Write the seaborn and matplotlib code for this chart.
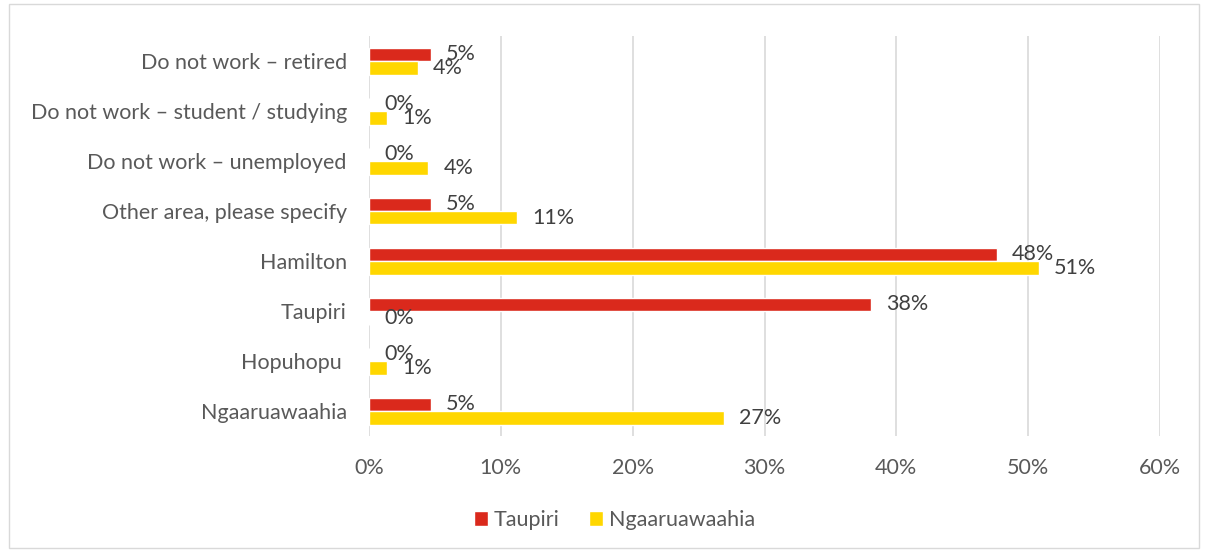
import pandas as pd
import matplotlib
matplotlib.use("Agg")
from matplotlib import pyplot as plt
from matplotlib.patches import Rectangle
from matplotlib.ticker import PercentFormatter
import seaborn as sns

categories = ['Do not work \u2013 retired', 'Do not work \u2013 student / studying',
              'Do not work \u2013 unemployed', 'Other area, please specify',
              'Hamilton', 'Taupiri', 'Hopuhopu ', 'Ngaaruawaahia']
taupiri = [4.7, 0.0, 0.0, 4.7, 47.6, 38.1, 0.0, 4.7]
ngaaruawaahia = [3.7, 1.4, 4.5, 11.2, 50.8, 0.0, 1.4, 26.9]
series = ['Taupiri', 'Ngaaruawaahia']
colors = ['#DA291C', '#FFD700']

df = pd.DataFrame({
    'category': categories * 2,
    'value': taupiri + ngaaruawaahia,
    'series': [series[0]] * len(categories) + [series[1]] * len(categories),
})

sns.set_style('white')
plt.rcParams['font.family'] = ['Lato', 'DejaVu Sans']

fig = plt.figure(figsize=(12.05, 5.5), dpi=100)
ax = fig.add_axes([369 / 1205, 1 - 436 / 550, (1160 - 369) / 1205, (436 - 36) / 550])

sns.barplot(data=df, x='value', y='category', hue='series', hue_order=series,
            palette=colors, orient='h', width=0.54, saturation=1, ax=ax, legend=True)

# data labels, Excel style
for cont in ax.containers:
    labels = ['%d%%' % round(v) for v in cont.datavalues]
    ax.bar_label(cont, labels=labels, padding=11, fontsize=15.5, color='#404040')

ax.set_xlim(0, 60)
ax.xaxis.set_major_formatter(PercentFormatter(decimals=0))
ax.set_xticks(range(0, 61, 10))
ax.grid(axis='x', color='#D9D9D9', lw=1.2)
ax.set_axisbelow(True)
for s in ax.spines.values():
    s.set_visible(False)
ax.set_xlabel('')
ax.set_ylabel('')
ax.tick_params(axis='both', length=0, labelsize=15.5, labelcolor='#595959')
ax.tick_params(axis='y', pad=16)
ax.tick_params(axis='x', pad=16)

handles, labels = ax.get_legend_handles_labels()
ax.get_legend().remove()
fig.legend(handles, labels, loc='center', bbox_to_anchor=(0.51, 1 - 520 / 550), ncol=2,
           frameon=False, fontsize=15.5, labelcolor='#595959', handlelength=0.65,
           handleheight=0.65, handletextpad=0.25, columnspacing=1.4)

fig.patches.append(Rectangle((9 / 1205, 2 / 550), 1190 / 1205, 544 / 550,
                             transform=fig.transFigure, fill=False,
                             edgecolor='#D9D9D9', lw=1))

fig.savefig('out.png', dpi=100)
